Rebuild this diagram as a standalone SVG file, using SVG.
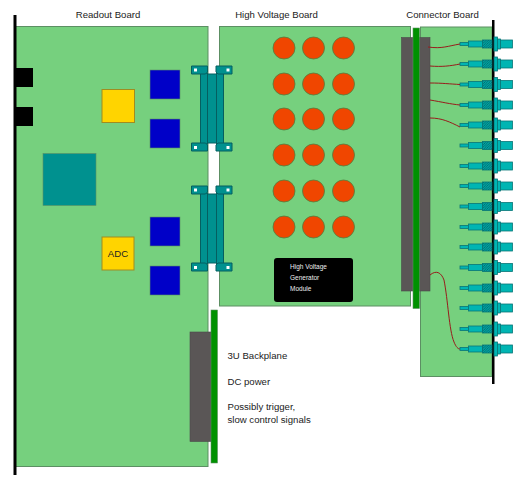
<svg xmlns="http://www.w3.org/2000/svg" xmlns:xlink="http://www.w3.org/1999/xlink" width="518" height="485" viewBox="0 0 518 485">
<style>
text{font-family:"Liberation Sans",Arial,sans-serif;fill:#222}
.t{font-size:9.6px}
.s{font-size:6.5px;fill:#eee}
.board{fill:#76d07e;stroke:#5c8f63;stroke-width:1}
.grey{fill:#5a5656;stroke:#4a4a4a;stroke-width:.6}
.bar{fill:#009100;stroke:#5c8f63;stroke-width:.6}
.blue{fill:#0000c8;stroke:#5c8f63;stroke-width:.6}
.yel{fill:#ffd400;stroke:#a08c20;stroke-width:1}
.hv{fill:#f04600;stroke:#4f8040;stroke-width:.8}
.tl{fill:#00918f;stroke:#055f60;stroke-width:1}
.cy{fill:#00b5b3;stroke:#087577;stroke-width:.8}
.hat{fill:url(#h);stroke:#087577;stroke-width:.8}
.wire{fill:none;stroke:#981c1c;stroke-width:1}
.hole{fill:#fff}
</style>
<defs>
<pattern id="h" width="2.4" height="2.4" patternUnits="userSpaceOnUse"><rect width="2.4" height="2.4" fill="#00a3a3"/><path d="M0 2.4L2.4 0" stroke="#055f60" stroke-width=".7"/></pattern>
<g id="coax">
<rect class="cy" x="460" y="-1.5" width="8.5" height="3"/>
<rect class="cy" x="468.5" y="-3" width="14" height="6"/>
<rect class="hat" x="482.5" y="-4" width="9.5" height="8"/>
<rect class="cy" x="494" y="-7" width="3.5" height="14"/>
<rect class="cy" x="497.5" y="-5" width="3" height="10"/>
<rect class="cy" x="500.5" y="-4" width="12" height="8"/>
</g>
<g id="clip">
<rect class="tl" x="200.500" y="-1" width="7" height="71"/>
<rect class="tl" x="207.500" y="0" width="9" height="69"/>
<rect class="tl" x="216.500" y="-1" width="7" height="71"/>
<path class="tl" d="M191.500 -8h16v6l-2 2h-14zM232 -8h-16v6l2 2h14zM191.500 69h14l2 2v6h-16zM232 69h-14l-2 2v6h16z"/>
<rect class="hole" x="194" y="-5.500" width="3" height="3"/><rect class="hole" x="226.500" y="-5.500" width="3" height="3"/>
<rect class="hole" x="194" y="72" width="3" height="3"/><rect class="hole" x="226.500" y="72" width="3" height="3"/>
</g>
</defs>
<rect width="518" height="485" fill="#fff"/>
<g id="readout-board">
<rect class="board" x="15.500" y="26.500" width="192.500" height="440"/>
<rect x="15" y="68" width="18" height="19" fill="#000"/>
<rect x="15" y="107" width="18" height="19" fill="#000"/>
<rect x="43" y="153.500" width="53" height="52" fill="#00918f" stroke="#5c8f63" stroke-width=".6"/>
<rect class="yel" x="102" y="89.500" width="32.500" height="33"/>
<rect class="yel" x="102" y="237" width="32" height="33"/>
<text x="118" y="257" font-size="9.600" text-anchor="middle">ADC</text>
<rect class="blue" x="150" y="70" width="30" height="29"/>
<rect class="blue" x="150" y="119" width="30" height="29"/>
<rect class="blue" x="150" y="217" width="30" height="29"/>
<rect class="blue" x="150" y="266" width="30" height="29"/>
<text class="t" x="108" y="18" text-anchor="middle">Readout Board</text>
</g>
<g id="high-voltage-board">
<rect class="board" x="219.500" y="26.500" width="191" height="279.500"/>
<g id="hv-circles">
<circle class="hv" cx="284" cy="48" r="11"/><circle class="hv" cx="313.500" cy="48" r="11"/><circle class="hv" cx="343.500" cy="48" r="11"/>
<circle class="hv" cx="284" cy="84" r="11"/><circle class="hv" cx="313.500" cy="84" r="11"/><circle class="hv" cx="343.500" cy="84" r="11"/>
<circle class="hv" cx="284" cy="119" r="11"/><circle class="hv" cx="313.500" cy="119" r="11"/><circle class="hv" cx="343.500" cy="119" r="11"/>
<circle class="hv" cx="284" cy="155" r="11"/><circle class="hv" cx="313.500" cy="155" r="11"/><circle class="hv" cx="343.500" cy="155" r="11"/>
<circle class="hv" cx="284" cy="191" r="11"/><circle class="hv" cx="313.500" cy="191" r="11"/><circle class="hv" cx="343.500" cy="191" r="11"/>
<circle class="hv" cx="284" cy="227" r="11"/><circle class="hv" cx="313.500" cy="227" r="11"/><circle class="hv" cx="343.500" cy="227" r="11"/>
</g>
<text class="t" x="276.500" y="18" text-anchor="middle">High Voltage Board</text>
</g>
<g id="hv-module">
<rect x="274" y="258" width="79" height="44" rx="3" fill="#000"/>
<text class="s" x="290" y="268.500">High Voltage</text>
<text class="s" x="290" y="280">Generator</text>
<text class="s" x="290" y="291">Module</text>
</g>
<g id="connector-board">
<rect class="board" x="420.500" y="27" width="71.500" height="349.500"/>
<text class="t" x="442.500" y="18" text-anchor="middle">Connector Board</text>
</g>
<g id="connector-block">
<rect class="grey" x="401.500" y="37.500" width="28.500" height="253.500"/>
<rect class="bar" x="413" y="28" width="6.500" height="280.500"/>
</g>
<g id="backplane">
<rect class="grey" x="190" y="332" width="21" height="109.500"/>
<rect class="bar" x="211" y="310" width="6.500" height="153"/>
<text class="t" x="227.500" y="359">3U Backplane</text>
<text class="t" x="227.500" y="385">DC power</text>
<text class="t" x="227.500" y="410">Possibly trigger,</text>
<text class="t" x="227.500" y="423">slow control signals</text>
</g>
<g id="ribbon-top"><use href="#clip" y="74"/></g>
<g id="ribbon-bottom"><use href="#clip" y="194"/></g>
<g id="panels">
<rect x="13.500" y="15" width="3" height="460" fill="#000"/>
<rect x="492" y="20" width="2.500" height="364" fill="#000"/>
</g>
<g id="coax-connectors">
<use href="#coax" y="44"/><use href="#coax" y="64"/><use href="#coax" y="84.500"/><use href="#coax" y="105"/>
<use href="#coax" y="125"/><use href="#coax" y="145.500"/><use href="#coax" y="166"/><use href="#coax" y="186"/>
<use href="#coax" y="206.500"/><use href="#coax" y="227"/><use href="#coax" y="247"/><use href="#coax" y="267.500"/>
<use href="#coax" y="288"/><use href="#coax" y="308"/><use href="#coax" y="329"/><use href="#coax" y="349"/>
</g>
<g id="connectors">
<path class="wire" d="M428 47C442 49 448 46 460 44"/>
<path class="wire" d="M430 66C442 67 450 66 460 64"/>
<path class="wire" d="M430 83C442 83 450 84 460 84.500"/>
<path class="wire" d="M430 100C442 102 450 104 460 105"/>
<path class="wire" d="M430 118C442 118 450 122 460 127"/>
<path class="wire" d="M430 275C436 270 441 272 444 280C448 300 449 330 454 342C456 347 458 349 460 349"/>
</g>
</svg>
